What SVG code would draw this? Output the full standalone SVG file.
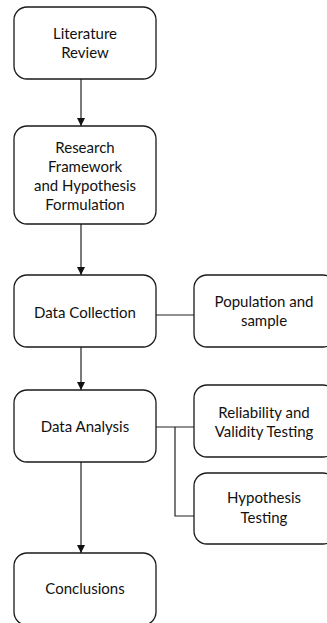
<svg xmlns="http://www.w3.org/2000/svg" width="327" height="623" viewBox="0 0 327 623">
  <defs>
    <marker id="arrow" viewBox="0 0 10 10" refX="10" refY="5" markerWidth="8" markerHeight="8" markerUnits="userSpaceOnUse" orient="auto">
      <path d="M0,0 L10,5 L0,10 z" fill="#111"/>
    </marker>
    <style>
      .box { fill: #fff; stroke: #1a1a1a; stroke-width: 1.3; }
      .lbl { font-family: Lato, "Open Sans", "Liberation Sans", sans-serif; font-size: 15px; fill: #111; text-anchor: middle; }
      .edge { fill: none; stroke: #222; stroke-width: 1.2; }
    </style>
  </defs>
  <rect width="327" height="623" fill="#fff"/>

  <g id="connectors">
    <line class="edge" x1="81" y1="79" x2="81" y2="126" marker-end="url(#arrow)"/>
    <line class="edge" x1="81" y1="224" x2="81" y2="275" marker-end="url(#arrow)"/>
    <line class="edge" x1="81" y1="347" x2="81" y2="390" marker-end="url(#arrow)"/>
    <line class="edge" x1="81" y1="462" x2="81" y2="553" marker-end="url(#arrow)"/>
    <line class="edge" x1="156" y1="315" x2="194" y2="315"/>
    <line class="edge" x1="156" y1="427" x2="194" y2="427"/>
    <polyline class="edge" points="175,427 175,516 194,516"/>
  </g>

  <g id="literature-review">
    <rect class="box" x="14" y="7" width="142" height="72" rx="13"/>
    <text class="lbl" x="85" y="39">Literature</text>
    <text class="lbl" x="85" y="58">Review</text>
  </g>

  <g id="research-framework">
    <rect class="box" x="14" y="126" width="142" height="98" rx="13"/>
    <text class="lbl" x="85" y="153">Research</text>
    <text class="lbl" x="85" y="172">Framework</text>
    <text class="lbl" x="85" y="191">and Hypothesis</text>
    <text class="lbl" x="85" y="210">Formulation</text>
  </g>

  <g id="data-collection">
    <rect class="box" x="14" y="275" width="142" height="72" rx="13"/>
    <text class="lbl" x="85" y="318">Data Collection</text>
  </g>

  <g id="population-sample">
    <rect class="box" x="194" y="275" width="142" height="72" rx="13"/>
    <text class="lbl" x="264" y="307">Population and</text>
    <text class="lbl" x="264" y="326">sample</text>
  </g>

  <g id="data-analysis">
    <rect class="box" x="14" y="390" width="142" height="72" rx="13"/>
    <text class="lbl" x="85" y="432">Data Analysis</text>
  </g>

  <g id="reliability-validity">
    <rect class="box" x="194" y="385" width="142" height="72" rx="13"/>
    <text class="lbl" x="264" y="418">Reliability and</text>
    <text class="lbl" x="264" y="437">Validity Testing</text>
  </g>

  <g id="hypothesis-testing">
    <rect class="box" x="194" y="473" width="142" height="71" rx="13"/>
    <text class="lbl" x="264" y="503">Hypothesis</text>
    <text class="lbl" x="264" y="523">Testing</text>
  </g>

  <g id="conclusions">
    <rect class="box" x="14" y="553" width="142" height="72" rx="13"/>
    <text class="lbl" x="85" y="594">Conclusions</text>
  </g>
</svg>
